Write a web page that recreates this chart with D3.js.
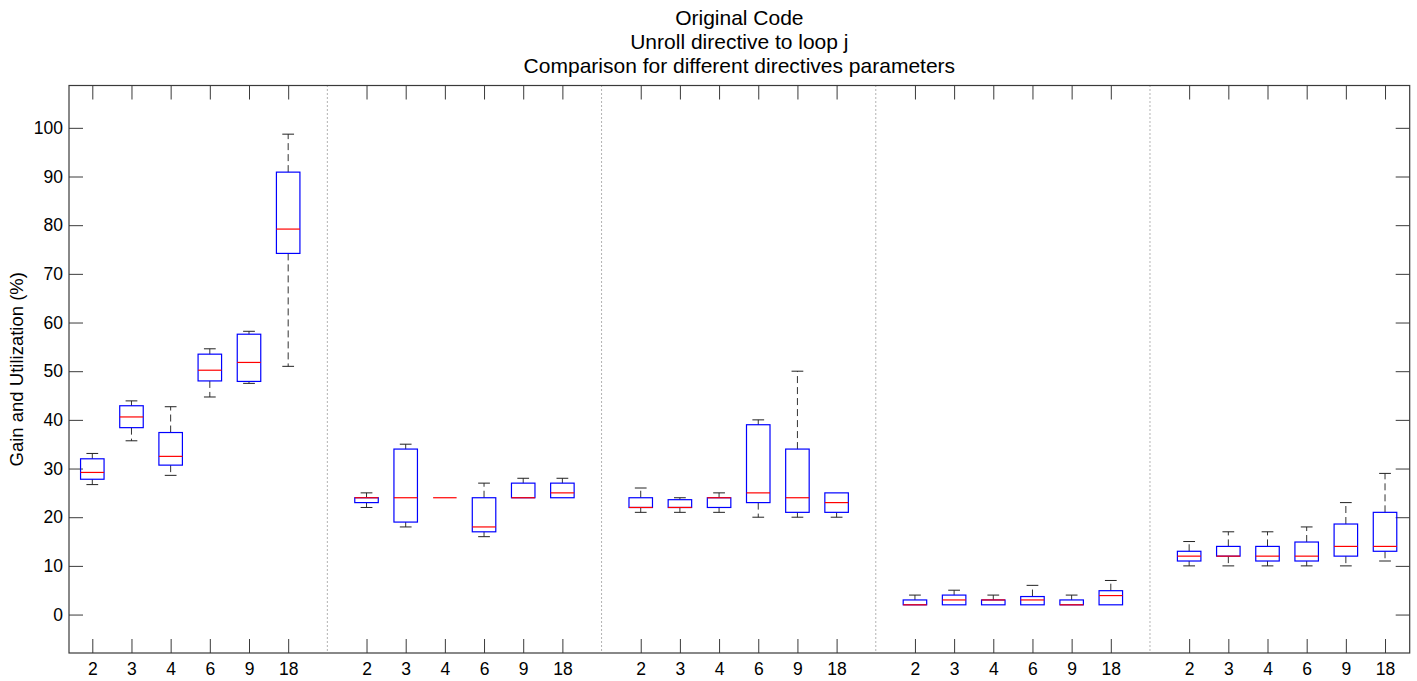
<!DOCTYPE html>
<html>
<head>
<meta charset="utf-8">
<script src="https://cdn.jsdelivr.net/npm/d3@7"></script>
<style>
  html, body { margin: 0; padding: 0; background: #fff; }
  svg { display: block; font-family: "Liberation Sans", Arial, Helvetica, sans-serif; }
</style>
</head>
<body>
<svg id="chart" width="1417" height="681"></svg>
<script>
// ---- data ----
const titleLines = ["Original Code", "Unroll directive to loop j", "Comparison for different directives parameters"];
const yLabel = "Gain and Utilization (%)";
const groupCount = 5;
const params = ["2", "3", "4", "6", "9", "18"];
const yTicks = [0, 10, 20, 30, 40, 50, 60, 70, 80, 90, 100];

// per box, group by group (5 groups x 6 parameters)
const whiskerHigh = [33.1, 43.9, 42.7, 54.6, 58.2, 98.7,
                     25, 35, 24, 27, 28, 28,
                     26, 24, 25, 40, 50, 25,
                     4, 5, 4, 6, 4, 7,
                     15, 17, 17, 18, 23, 29];
const q3 = [32.0, 42.9, 37.4, 53.5, 57.6, 90.9,
            24, 34, 24, 24, 27, 27,
            24, 23.6, 24, 39, 34, 25,
            3, 4, 3, 3.7, 3, 4.9,
            13, 14, 14, 14.9, 18.6, 21];
const median = [29.2, 40.6, 32.5, 50.2, 51.8, 79.2,
                24, 24, 24, 18, 24, 25,
                22, 22, 24, 25, 24, 23,
                2, 3, 3, 3, 2, 3.9,
                12, 12, 12, 12, 14, 14];
const q1 = [27.8, 38.4, 30.7, 48.0, 47.9, 74.2,
            23, 19, 24, 17, 24, 24,
            22, 22, 22, 23, 21, 21,
            2, 2, 2, 2, 2, 2,
            11, 12, 11, 11, 12, 13];
const whiskerLow = [26.7, 35.7, 28.6, 44.7, 47.5, 51.0,
                    22, 18, 24, 16, 24, 24,
                    21, 21, 21, 20, 20, 20,
                    2, 2, 2, 2, 2, 2,
                    10, 10, 10, 10, 10, 11];

// ---- layout ----
const plot = { left: 69, right: 1409.7, top: 85.5, bottom: 653 };
const svg = d3.select("#chart");

const perGroup = params.length + 1;
const slotOf = i => Math.floor(i / params.length) * perGroup + (i % params.length) + 1;
const boxes = d3.range(groupCount * params.length).map(i => ({
  slot: slotOf(i),
  label: params[i % params.length],
  lo: whiskerLow[i], q1: q1[i], med: median[i], q3: q3[i], hi: whiskerHigh[i]
}));
const separators = d3.range(1, groupCount).map(g => g * perGroup);

const x = d3.scaleLinear().domain([0.405, 34.63]).range([plot.left, plot.right]);
const y = d3.scaleLinear().domain([-7.9, 108.7]).range([plot.bottom, plot.top]);

const axisColor = "#3a3a3a";
const tickLen = 14;
const boxHalf = 0.3, capHalf = 0.15;
const fontFam = "'Liberation Sans', Arial, Helvetica, sans-serif";

// separators (dotted)
svg.append("g").selectAll("line").data(separators).join("line")
  .attr("x1", d => x(d)).attr("x2", d => x(d))
  .attr("y1", plot.top).attr("y2", plot.bottom)
  .attr("stroke", "#666").attr("stroke-width", 1).attr("stroke-dasharray", "1,3");

// axes via d3 axis generators (inward ticks)
const xTickVals = boxes.map(b => b.slot);
const xBottom = d3.axisBottom(x).tickValues(xTickVals).tickSizeInner(-tickLen).tickSizeOuter(0)
  .tickFormat(v => boxes.find(b => b.slot === v).label).tickPadding(10);
const xTop = d3.axisTop(x).tickValues(xTickVals).tickSizeInner(-tickLen).tickSizeOuter(0).tickFormat("");
const yLeft = d3.axisLeft(y).tickValues(yTicks).tickSizeInner(-tickLen).tickSizeOuter(0)
  .tickFormat(d3.format("d")).tickPadding(6);
const yRight = d3.axisRight(y).tickValues(yTicks).tickSizeInner(-tickLen).tickSizeOuter(0).tickFormat("");

function styleAxis(g) {
  g.attr("font-size", null).attr("font-family", null);
  g.select(".domain").remove();
  g.selectAll(".tick line").attr("stroke", axisColor).attr("stroke-width", 1);
  g.selectAll(".tick text").attr("fill", "#000").style("font-size", "17.5px")
    .style("font-family", fontFam);
}
svg.append("g").attr("transform", `translate(0,${plot.bottom})`).call(xBottom).call(styleAxis);
svg.append("g").attr("transform", `translate(0,${plot.top})`).call(xTop).call(styleAxis);
svg.append("g").attr("transform", `translate(${plot.left},0)`).call(yLeft).call(styleAxis);
svg.append("g").attr("transform", `translate(${plot.right},0)`).call(yRight).call(styleAxis);

// frame
svg.append("rect")
  .attr("x", plot.left).attr("y", plot.top)
  .attr("width", plot.right - plot.left).attr("height", plot.bottom - plot.top)
  .attr("fill", "none").attr("stroke", axisColor).attr("stroke-width", 1.2);

// boxes
const gb = svg.append("g").selectAll("g").data(boxes).join("g");
// whiskers
gb.filter(d => d.hi > d.q3).append("line")
  .attr("x1", d => x(d.slot)).attr("x2", d => x(d.slot))
  .attr("y1", d => y(d.q3)).attr("y2", d => y(d.hi))
  .attr("stroke", "#333").attr("stroke-width", 1).attr("stroke-dasharray", "7,4");
gb.filter(d => d.lo < d.q1).append("line")
  .attr("x1", d => x(d.slot)).attr("x2", d => x(d.slot))
  .attr("y1", d => y(d.q1)).attr("y2", d => y(d.lo))
  .attr("stroke", "#333").attr("stroke-width", 1).attr("stroke-dasharray", "7,4");
// caps
gb.filter(d => d.hi > d.q3).append("line")
  .attr("x1", d => x(d.slot - capHalf)).attr("x2", d => x(d.slot + capHalf))
  .attr("y1", d => y(d.hi)).attr("y2", d => y(d.hi))
  .attr("stroke", "#222").attr("stroke-width", 1);
gb.filter(d => d.lo < d.q1).append("line")
  .attr("x1", d => x(d.slot - capHalf)).attr("x2", d => x(d.slot + capHalf))
  .attr("y1", d => y(d.lo)).attr("y2", d => y(d.lo))
  .attr("stroke", "#222").attr("stroke-width", 1);
// box
gb.filter(d => d.q3 > d.q1).append("rect")
  .attr("x", d => x(d.slot - boxHalf)).attr("width", d => x(d.slot + boxHalf) - x(d.slot - boxHalf))
  .attr("y", d => y(d.q3)).attr("height", d => y(d.q1) - y(d.q3))
  .attr("fill", "none").attr("stroke", "#0000ff").attr("stroke-width", 1.2);
// median
gb.append("line")
  .attr("x1", d => x(d.slot - boxHalf)).attr("x2", d => x(d.slot + boxHalf))
  .attr("y1", d => y(d.med)).attr("y2", d => y(d.med))
  .attr("stroke", "#ff0000").attr("stroke-width", 1.2);

// title
svg.append("g").selectAll("text").data(titleLines).join("text")
  .attr("x", (plot.left + plot.right) / 2).attr("y", (d, i) => 25 + i * 24)
  .attr("text-anchor", "middle").style("font-size", "21px").style("font-family", fontFam)
  .attr("fill", "#000")
  .text(d => d);

// y label
svg.append("text")
  .attr("transform", `translate(23,${(plot.top + plot.bottom) / 2}) rotate(-90)`)
  .attr("text-anchor", "middle").style("font-size", "18.5px").style("font-family", fontFam)
  .attr("fill", "#000")
  .text(yLabel);
</script>
</body>
</html>
